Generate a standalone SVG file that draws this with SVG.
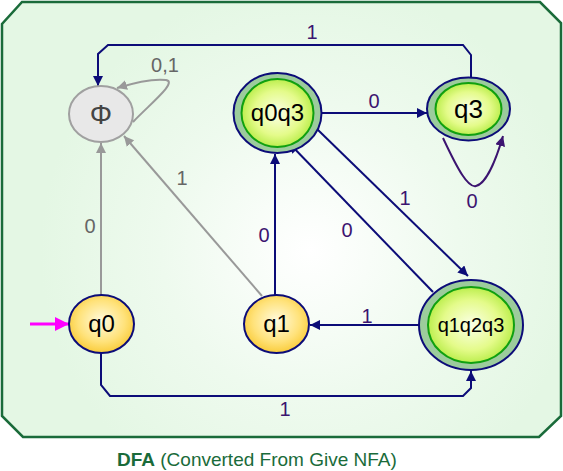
<svg xmlns="http://www.w3.org/2000/svg" width="563" height="471" viewBox="0 0 563 471">
<defs>
<radialGradient id="bg" cx="310" cy="250" r="270" gradientUnits="userSpaceOnUse">
<stop offset="0" stop-color="#ffffff"/>
<stop offset="0.55" stop-color="#eefaee"/>
<stop offset="1" stop-color="#e4f7e4"/>
</radialGradient>
<radialGradient id="yel" cx="0.5" cy="0.45" r="0.6">
<stop offset="0" stop-color="#fffbe0"/>
<stop offset="0.6" stop-color="#ffe27a"/>
<stop offset="1" stop-color="#f8c62a"/>
</radialGradient>
<radialGradient id="grn" cx="0.5" cy="0.5" r="0.6">
<stop offset="0" stop-color="#fbffe8"/>
<stop offset="0.55" stop-color="#e4fb8a"/>
<stop offset="1" stop-color="#a4e62a"/>
</radialGradient>
<marker id="an" viewBox="0 0 10 10" refX="10" refY="5" markerWidth="10" markerHeight="10" markerUnits="userSpaceOnUse" orient="auto">
<path d="M0,0 L10,5 L0,10 Z" fill="#0c0c78"/>
</marker>
<marker id="ap" viewBox="0 0 10 10" refX="10" refY="5" markerWidth="10" markerHeight="10" markerUnits="userSpaceOnUse" orient="auto">
<path d="M0,0 L10,5 L0,10 Z" fill="#3c1470"/>
</marker>
<marker id="ag" viewBox="0 0 10 10" refX="10" refY="5" markerWidth="10" markerHeight="10" markerUnits="userSpaceOnUse" orient="auto">
<path d="M0,0 L10,5 L0,10 Z" fill="#999999"/>
</marker>
<marker id="am" viewBox="0 0 10 10" refX="10" refY="5" markerWidth="14" markerHeight="14" markerUnits="userSpaceOnUse" orient="auto">
<path d="M0,0 L10,5 L0,10 Z" fill="#ff00ff"/>
</marker>
</defs>
<style>
text{font-family:"Liberation Sans",Arial,sans-serif;}
.nl{font-size:24px;fill:#000;text-anchor:middle;}
.lb{font-size:20px;fill:#3c1470;text-anchor:middle;}
.lg{font-size:20px;fill:#666;text-anchor:middle;}
.en{fill:none;stroke:#0c0c78;stroke-width:2;marker-end:url(#an);}
.eg{fill:none;stroke:#999;stroke-width:2;marker-end:url(#ag);}
.ep{fill:none;stroke:#3c1470;stroke-width:2;marker-end:url(#ap);}
.start{fill:url(#yel);stroke:#0c0c78;stroke-width:2;}
.fo{fill:#9ccc9c;stroke:#0c0c78;stroke-width:2;}
.fi{fill:url(#grn);stroke:#10a010;stroke-width:2;}
</style>
<polygon points="22,2 540,2 561,23 561,416 539,437 23,437 2,416 2,24" fill="url(#bg)" stroke="#1a6b3a" stroke-width="2.5"/>
<g id="connectors">
<path class="en" d="M471,77 L471,55 L463,45 L108,45 L98,54 L98,86"/>
<text class="lb" x="312" y="39">1</text>
<path class="eg" d="M133,122 C150,104 178,82 166,80 C150,78 130,84 117,88"/>
<text class="lg" x="165" y="72">0,1</text>
<path class="eg" d="M101,295 L101,143"/>
<text class="lg" x="90" y="233">0</text>
<path class="eg" d="M262,296 L124,136"/>
<text class="lg" x="182" y="185">1</text>
<path class="en" d="M275,295 L275,154"/>
<text class="lb" x="264" y="242">0</text>
<path class="en" d="M322,113 L427,113"/>
<text class="lb" x="374" y="108">0</text>
<path class="en" d="M317,129 L468,276"/>
<text class="lb" x="405" y="205">1</text>
<path class="en" d="M433,292 L289,143"/>
<text class="lb" x="347" y="237">0</text>
<path class="en" d="M419,325 L310,325"/>
<text class="lb" x="367" y="323">1</text>
<path class="en" d="M101,353 L101,385 L110,396 L463,396 L471,388 L471,371"/>
<text class="lb" x="285" y="416">1</text>
<path class="ep" d="M443,138 C458,170 468,188 476,186 C486,184 496,160 503,136"/>
<text class="lb" x="472" y="208">0</text>
<path d="M30,324 L69,324" fill="none" stroke="#ff00ff" stroke-width="3" marker-end="url(#am)"/>
</g>
<g id="phi">
<ellipse cx="101" cy="114" rx="32" ry="28" fill="#e8e8e8" stroke="#a0a0a0" stroke-width="2"/>
<text class="nl" x="101" y="124" style="fill:#444;font-size:28px">Φ</text>
</g>
<g id="q0q3">
<ellipse class="fo" cx="277.5" cy="113" rx="44" ry="40"/>
<ellipse class="fi" cx="277.5" cy="113" rx="36" ry="34"/>
<text class="nl" x="277.5" y="121">q0q3</text>
</g>
<g id="q3">
<ellipse class="fo" cx="468.5" cy="109" rx="41.5" ry="31.5"/>
<ellipse class="fi" cx="468.5" cy="109" rx="33" ry="26"/>
<text class="nl" x="468.5" y="118" style="font-size:26px">q3</text>
</g>
<g id="q0">
<ellipse class="start" cx="101.5" cy="324" rx="32.5" ry="29"/>
<text class="nl" x="101.5" y="332">q0</text>
</g>
<g id="q1">
<ellipse class="start" cx="276.5" cy="324" rx="32.5" ry="29"/>
<text class="nl" x="276.5" y="332">q1</text>
</g>
<g id="q1q2q3">
<ellipse class="fo" cx="471" cy="325" rx="52" ry="45"/>
<ellipse class="fi" cx="471" cy="325" rx="43" ry="38"/>
<text class="nl" x="471" y="332" style="font-size:20px">q1q2q3</text>
</g>
<text x="117" y="466" style="font-size:19px;fill:#1a6b3a"><tspan font-weight="bold">DFA</tspan> (Converted From Give NFA)</text>
</svg>
